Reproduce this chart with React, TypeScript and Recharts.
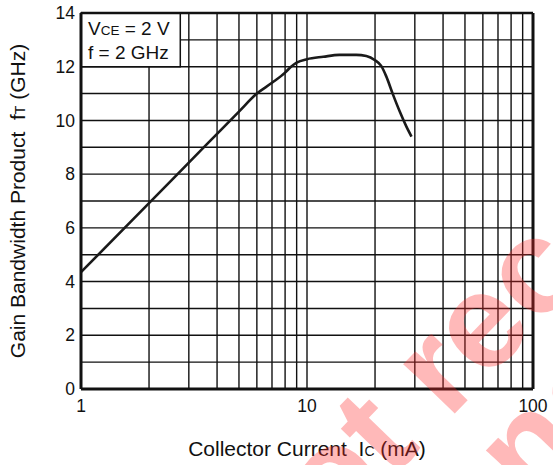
import React from "react";
import { LineChart, Line, XAxis, YAxis, CartesianGrid, ReferenceArea, ReferenceLine, Label } from "recharts";

// values (VCE = 2 V, f = 2 GHz)
const currentMA = [1, 2, 3, 4, 5, 6, 7, 8, 8.5, 9, 10, 11.8, 13.9, 16.5, 18.3, 20, 21.3, 22.4, 24, 25.7, 27.5, 29];
const ftGHz = [4.35, 6.92, 8.43, 9.5, 10.33, 11.0, 11.4, 11.78, 12.0, 12.15, 12.28, 12.37, 12.44, 12.44, 12.4, 12.24, 12.03, 11.65, 10.97, 10.34, 9.78, 9.4];

const xTicks = [1, 2, 3, 4, 5, 6, 7, 8, 9, 10, 20, 30, 40, 50, 60, 70, 80, 90, 100];
const xLabels = [1, 10, 100];
const yTicks = [0, 1, 2, 3, 4, 5, 6, 7, 8, 9, 10, 11, 12, 13, 14];
const yLabels = [0, 2, 4, 6, 8, 10, 12, 14];
const watermarkLines = ["Not recommended", "for new design"];

const data = currentMA.map((ic, i) => ({ ic, ft: ftGHz[i] }));

const FONT = '"Liberation Sans", Arial, Helvetica, sans-serif';
const INK = "#111";

function YTitle(props: any) {
  const vb = props.viewBox || { x: 0, y: 13, width: 81, height: 376 };
  const cx = vb.x + 25;
  const cy = vb.y + vb.height / 2;
  return (
    <text x={cx} y={cy} transform={`rotate(-90 ${cx} ${cy})`} textAnchor="middle" fontFamily={FONT} fontSize={21} fill={INK} xmlSpace="preserve">
      Gain Bandwidth Product{"  "}f<tspan fontSize={14}>T</tspan> (GHz)
    </text>
  );
}

function XTitle(props: any) {
  const vb = props.viewBox || { x: 81, y: 389, width: 452, height: 76 };
  return (
    <text x={vb.x + vb.width / 2} y={vb.y + 67} textAnchor="middle" fontFamily={FONT} fontSize={21} fill={INK} xmlSpace="preserve">
      Collector Current{"  "}I<tspan fontSize={14}>C</tspan> (mA)
    </text>
  );
}

function Conditions(props: any) {
  const vb = props.viewBox || { x: 81, y: 13, width: 99, height: 53 };
  return (
    <g fontFamily={FONT} fontSize={19} fill={INK}>
      <text x={vb.x + 7} y={vb.y + 22}>
        V<tspan fontSize={13.5}>CE</tspan> = 2 V
      </text>
      <text x={vb.x + 7} y={vb.y + 46}>f = 2 GHz</text>
    </g>
  );
}

export default function App() {
  return (
    <div style={{ position: "relative", width: 553, height: 465, background: "#fff" }}>
      <style>{"body{margin:0}"}</style>
      <LineChart width={553} height={465} data={data} margin={{ top: 13, right: 20, bottom: 0, left: 0 }}>
        <CartesianGrid stroke={INK} strokeWidth={1.4} />
        <XAxis
          dataKey="ic"
          type="number"
          scale="log"
          domain={[1, 100]}
          ticks={xTicks}
          interval={0}
          height={76}
          tickLine={false}
          tickSize={6}
          tickMargin={5}
          axisLine={{ stroke: INK, strokeWidth: 3 }}
          tick={{ fontSize: 17.5, fill: INK, fontFamily: FONT }}
          tickFormatter={(v: number) => (xLabels.includes(v) ? String(v) : "")}
        >
          <Label content={XTitle} />
        </XAxis>
        <YAxis
          type="number"
          domain={[0, 14]}
          ticks={yTicks}
          interval={0}
          width={81}
          tickLine={false}
          tickSize={6}
          tickMargin={0}
          axisLine={{ stroke: INK, strokeWidth: 3 }}
          tick={{ fontSize: 17.5, fill: INK, fontFamily: FONT }}
          tickFormatter={(v: number) => (yLabels.includes(v) ? String(v) : "")}
        >
          <Label content={YTitle} />
        </YAxis>
        <ReferenceLine y={14} stroke={INK} strokeWidth={2.5} />
        <ReferenceLine x={100} stroke={INK} strokeWidth={3} />
        <ReferenceArea
          x1={1}
          x2={2.75}
          y1={12}
          y2={14}
          fill="#fff"
          fillOpacity={1}
          stroke={INK}
          strokeWidth={1.5}
          label={(p: any) => <Conditions {...p} />}
        />
        <Line
          dataKey="ft"
          type="monotone"
          stroke="#1a1a1a"
          strokeWidth={2.6}
          dot={false}
          activeDot={false}
          isAnimationActive={false}
        />
      </LineChart>
      <svg width={553} height={465} style={{ position: "absolute", left: 0, top: 0, pointerEvents: "none" }}>
        <g fontFamily={FONT} fontWeight="bold" fontSize={135} fill="#ff2a2a" fillOpacity={0.33}>
          <text x={266} y={609} transform="rotate(-46 266 609)">{watermarkLines[0]}</text>
          <text x={380} y={663} transform="rotate(-46 380 663)">{watermarkLines[1]}</text>
        </g>
      </svg>
    </div>
  );
}
